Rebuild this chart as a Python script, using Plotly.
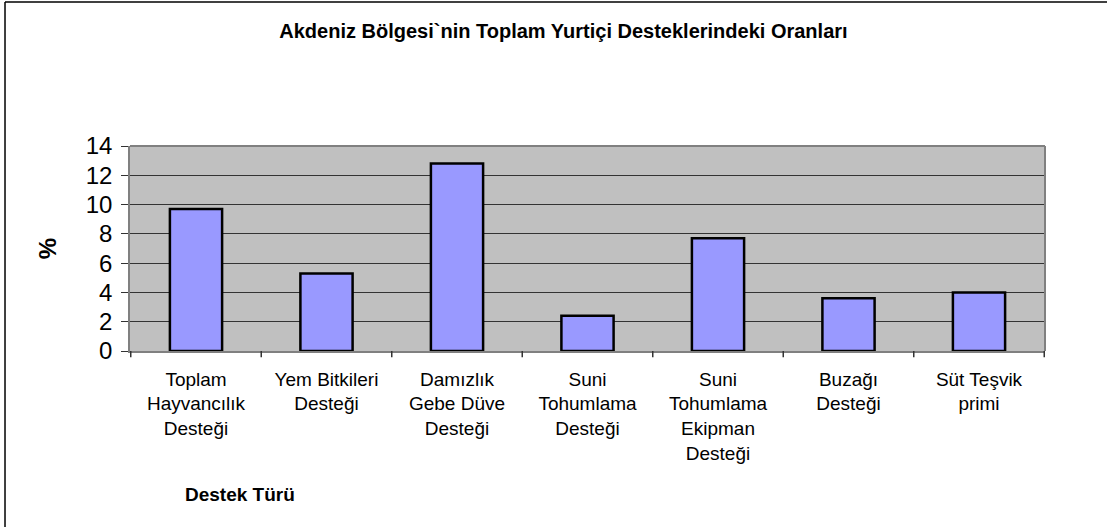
import plotly.graph_objects as go

categories = [
    "Toplam<br>Hayvancılık<br>Desteği",
    "Yem Bitkileri<br>Desteği",
    "Damızlık<br>Gebe Düve<br>Desteği",
    "Suni<br>Tohumlama<br>Desteği",
    "Suni<br>Tohumlama<br>Ekipman<br>Desteği",
    "Buzağı<br>Desteği",
    "Süt Teşvik<br>primi",
]
values = [9.7, 5.3, 12.8, 2.4, 7.7, 3.6, 4.0]
y_ticks = [0, 2, 4, 6, 8, 10, 12, 14]

font = "Liberation Sans, Arial, sans-serif"

fig = go.Figure()
fig.add_trace(go.Bar(
    x=categories,
    y=values,
    marker=dict(color="#9999FF", line=dict(color="black", width=2.5)),
    width=0.4,
))

fig.update_layout(
    width=1107,
    height=527,
    margin=dict(l=130, r=62, t=146, b=176),
    paper_bgcolor="white",
    plot_bgcolor="#C0C0C0",
    showlegend=False,
    font=dict(family=font, color="black"),
    title=dict(
        text="<b>Akdeniz Bölgesi`nin Toplam Yurtiçi Desteklerindeki Oranları</b>",
        font=dict(size=20, family=font, color="black"),
        x=0.509, xanchor="center", xref="container",
        y=0.941, yanchor="middle",
    ),
    xaxis=dict(
        tickfont=dict(size=19),
        showgrid=False,
        ticks="",
        ticklabelstandoff=10,
        showline=True, linecolor="#808080", linewidth=1.5,
        mirror=False,
    ),
    yaxis=dict(
        range=[0, 14],
        tickvals=y_ticks,
        tickfont=dict(size=24),
        ticks="outside", ticklen=7, tickcolor="#333333",
        ticklabelstandoff=4,
        showgrid=True, gridcolor="#333333", gridwidth=1,
        showline=True, linecolor="#808080", linewidth=1.5,
        zeroline=False,
        title=dict(text="<b>%</b>", font=dict(size=24), standoff=22),
    ),
)

# outer chart border: only left and top edges are on the page
fig.add_shape(type="line", xref="paper", yref="paper",
              x0=-0.1366, x1=-0.1366, y0=-1.0, y1=1.702,
              line=dict(color="black", width=1.5))
fig.add_shape(type="line", xref="paper", yref="paper",
              x0=-0.1366, x1=1.2, y0=1.702, y1=1.702,
              line=dict(color="black", width=1.5))

# right/top frame of plot area
fig.add_shape(type="line", xref="paper", yref="paper", x0=0, x1=1, y0=1, y1=1,
              line=dict(color="#808080", width=2))
fig.add_shape(type="line", xref="paper", yref="paper", x0=1, x1=1, y0=0, y1=1,
              line=dict(color="#808080", width=2))

# category separators under the x axis
for i in range(len(categories) + 1):
    fig.add_shape(type="line", xref="x", yref="paper",
                  x0=i - 0.5, x1=i - 0.5, y0=0, y1=-0.03,
                  line=dict(color="#333333", width=1.5))

fig.add_annotation(
    text="<b>Destek Türü</b>", xref="paper", yref="paper",
    x=(240 - 130) / 915, y=(351 - 494) / 205,
    xanchor="center", yanchor="middle", showarrow=False,
    font=dict(size=19, family=font, color="black"),
)

fig.write_html("out.html", config={"displayModeBar": False},
               post_script="document.body.style.margin='0';")
